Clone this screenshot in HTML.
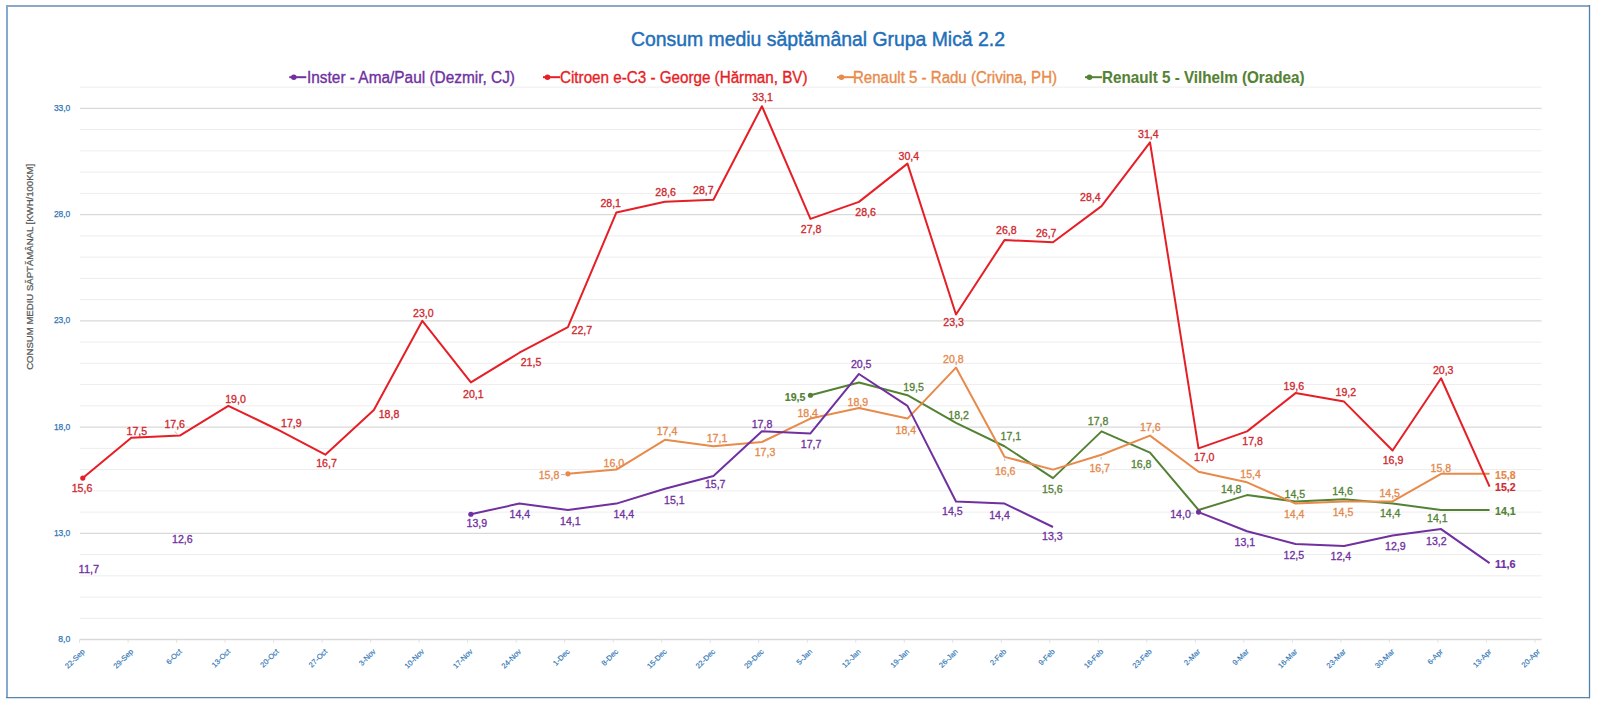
<!DOCTYPE html><html><head><meta charset="utf-8"><style>html,body{margin:0;padding:0;background:#fff;}svg{display:block;font-family:"Liberation Sans",sans-serif;}</style></head><body>
<svg width="1600" height="702" viewBox="0 0 1600 702">
<rect x="0" y="0" width="1600" height="702" fill="#fff"/>
<line x1="7" y1="5" x2="7" y2="698" stroke="#86AACE" stroke-width="2"/>
<line x1="6" y1="6" x2="1590" y2="6" stroke="#8AA8C6" stroke-width="1.8"/>
<line x1="1589.5" y1="5" x2="1589.5" y2="698.3" stroke="#4F80A8" stroke-width="1.3"/>
<line x1="6" y1="697.6" x2="1590" y2="697.6" stroke="#5584AC" stroke-width="1.3"/>
<line x1="80" x2="1541.6" y1="618.35" y2="618.35" stroke="#EDEDED" stroke-width="1"/>
<line x1="80" x2="1541.6" y1="597.10" y2="597.10" stroke="#EDEDED" stroke-width="1"/>
<line x1="80" x2="1541.6" y1="575.85" y2="575.85" stroke="#EDEDED" stroke-width="1"/>
<line x1="80" x2="1541.6" y1="554.60" y2="554.60" stroke="#EDEDED" stroke-width="1"/>
<line x1="80" x2="1541.6" y1="533.35" y2="533.35" stroke="#D9D9D9" stroke-width="1.2"/>
<line x1="80" x2="1541.6" y1="512.10" y2="512.10" stroke="#EDEDED" stroke-width="1"/>
<line x1="80" x2="1541.6" y1="490.85" y2="490.85" stroke="#EDEDED" stroke-width="1"/>
<line x1="80" x2="1541.6" y1="469.60" y2="469.60" stroke="#EDEDED" stroke-width="1"/>
<line x1="80" x2="1541.6" y1="448.35" y2="448.35" stroke="#EDEDED" stroke-width="1"/>
<line x1="80" x2="1541.6" y1="427.10" y2="427.10" stroke="#D9D9D9" stroke-width="1.2"/>
<line x1="80" x2="1541.6" y1="405.85" y2="405.85" stroke="#EDEDED" stroke-width="1"/>
<line x1="80" x2="1541.6" y1="384.60" y2="384.60" stroke="#EDEDED" stroke-width="1"/>
<line x1="80" x2="1541.6" y1="363.35" y2="363.35" stroke="#EDEDED" stroke-width="1"/>
<line x1="80" x2="1541.6" y1="342.10" y2="342.10" stroke="#EDEDED" stroke-width="1"/>
<line x1="80" x2="1541.6" y1="320.85" y2="320.85" stroke="#D9D9D9" stroke-width="1.2"/>
<line x1="80" x2="1541.6" y1="299.60" y2="299.60" stroke="#EDEDED" stroke-width="1"/>
<line x1="80" x2="1541.6" y1="278.35" y2="278.35" stroke="#EDEDED" stroke-width="1"/>
<line x1="80" x2="1541.6" y1="257.10" y2="257.10" stroke="#EDEDED" stroke-width="1"/>
<line x1="80" x2="1541.6" y1="235.85" y2="235.85" stroke="#EDEDED" stroke-width="1"/>
<line x1="80" x2="1541.6" y1="214.60" y2="214.60" stroke="#D9D9D9" stroke-width="1.2"/>
<line x1="80" x2="1541.6" y1="193.35" y2="193.35" stroke="#EDEDED" stroke-width="1"/>
<line x1="80" x2="1541.6" y1="172.10" y2="172.10" stroke="#EDEDED" stroke-width="1"/>
<line x1="80" x2="1541.6" y1="150.85" y2="150.85" stroke="#EDEDED" stroke-width="1"/>
<line x1="80" x2="1541.6" y1="129.60" y2="129.60" stroke="#EDEDED" stroke-width="1"/>
<line x1="80" x2="1541.6" y1="108.35" y2="108.35" stroke="#D9D9D9" stroke-width="1.2"/>
<line x1="80" x2="1541.6" y1="87.10" y2="87.10" stroke="#EDEDED" stroke-width="1"/>
<line x1="79.6" x2="1541.6" y1="639.6" y2="639.6" stroke="#D9D9D9" stroke-width="1.5"/>
<line x1="79.60" x2="79.60" y1="639.6" y2="642.8000000000001" stroke="#E2E2E2" stroke-width="1"/>
<line x1="128.11" x2="128.11" y1="639.6" y2="642.8000000000001" stroke="#E2E2E2" stroke-width="1"/>
<line x1="176.62" x2="176.62" y1="639.6" y2="642.8000000000001" stroke="#E2E2E2" stroke-width="1"/>
<line x1="225.13" x2="225.13" y1="639.6" y2="642.8000000000001" stroke="#E2E2E2" stroke-width="1"/>
<line x1="273.64" x2="273.64" y1="639.6" y2="642.8000000000001" stroke="#E2E2E2" stroke-width="1"/>
<line x1="322.15" x2="322.15" y1="639.6" y2="642.8000000000001" stroke="#E2E2E2" stroke-width="1"/>
<line x1="370.66" x2="370.66" y1="639.6" y2="642.8000000000001" stroke="#E2E2E2" stroke-width="1"/>
<line x1="419.17" x2="419.17" y1="639.6" y2="642.8000000000001" stroke="#E2E2E2" stroke-width="1"/>
<line x1="467.68" x2="467.68" y1="639.6" y2="642.8000000000001" stroke="#E2E2E2" stroke-width="1"/>
<line x1="516.19" x2="516.19" y1="639.6" y2="642.8000000000001" stroke="#E2E2E2" stroke-width="1"/>
<line x1="564.70" x2="564.70" y1="639.6" y2="642.8000000000001" stroke="#E2E2E2" stroke-width="1"/>
<line x1="613.21" x2="613.21" y1="639.6" y2="642.8000000000001" stroke="#E2E2E2" stroke-width="1"/>
<line x1="661.72" x2="661.72" y1="639.6" y2="642.8000000000001" stroke="#E2E2E2" stroke-width="1"/>
<line x1="710.23" x2="710.23" y1="639.6" y2="642.8000000000001" stroke="#E2E2E2" stroke-width="1"/>
<line x1="758.74" x2="758.74" y1="639.6" y2="642.8000000000001" stroke="#E2E2E2" stroke-width="1"/>
<line x1="807.25" x2="807.25" y1="639.6" y2="642.8000000000001" stroke="#E2E2E2" stroke-width="1"/>
<line x1="855.76" x2="855.76" y1="639.6" y2="642.8000000000001" stroke="#E2E2E2" stroke-width="1"/>
<line x1="904.27" x2="904.27" y1="639.6" y2="642.8000000000001" stroke="#E2E2E2" stroke-width="1"/>
<line x1="952.78" x2="952.78" y1="639.6" y2="642.8000000000001" stroke="#E2E2E2" stroke-width="1"/>
<line x1="1001.29" x2="1001.29" y1="639.6" y2="642.8000000000001" stroke="#E2E2E2" stroke-width="1"/>
<line x1="1049.80" x2="1049.80" y1="639.6" y2="642.8000000000001" stroke="#E2E2E2" stroke-width="1"/>
<line x1="1098.31" x2="1098.31" y1="639.6" y2="642.8000000000001" stroke="#E2E2E2" stroke-width="1"/>
<line x1="1146.82" x2="1146.82" y1="639.6" y2="642.8000000000001" stroke="#E2E2E2" stroke-width="1"/>
<line x1="1195.33" x2="1195.33" y1="639.6" y2="642.8000000000001" stroke="#E2E2E2" stroke-width="1"/>
<line x1="1243.84" x2="1243.84" y1="639.6" y2="642.8000000000001" stroke="#E2E2E2" stroke-width="1"/>
<line x1="1292.35" x2="1292.35" y1="639.6" y2="642.8000000000001" stroke="#E2E2E2" stroke-width="1"/>
<line x1="1340.86" x2="1340.86" y1="639.6" y2="642.8000000000001" stroke="#E2E2E2" stroke-width="1"/>
<line x1="1389.37" x2="1389.37" y1="639.6" y2="642.8000000000001" stroke="#E2E2E2" stroke-width="1"/>
<line x1="1437.88" x2="1437.88" y1="639.6" y2="642.8000000000001" stroke="#E2E2E2" stroke-width="1"/>
<line x1="1486.39" x2="1486.39" y1="639.6" y2="642.8000000000001" stroke="#E2E2E2" stroke-width="1"/>
<line x1="1534.90" x2="1534.90" y1="639.6" y2="642.8000000000001" stroke="#E2E2E2" stroke-width="1"/>
<text x="70.3" y="642.10" font-size="9" fill="#2E75B6" text-anchor="end" textLength="12" lengthAdjust="spacingAndGlyphs" stroke="#2E75B6" stroke-width="0.25">8,0</text>
<text x="70.3" y="535.85" font-size="9" fill="#2E75B6" text-anchor="end" textLength="16.4" lengthAdjust="spacingAndGlyphs" stroke="#2E75B6" stroke-width="0.25">13,0</text>
<text x="70.3" y="429.60" font-size="9" fill="#2E75B6" text-anchor="end" textLength="16.4" lengthAdjust="spacingAndGlyphs" stroke="#2E75B6" stroke-width="0.25">18,0</text>
<text x="70.3" y="323.35" font-size="9" fill="#2E75B6" text-anchor="end" textLength="16.4" lengthAdjust="spacingAndGlyphs" stroke="#2E75B6" stroke-width="0.25">23,0</text>
<text x="70.3" y="217.10" font-size="9" fill="#2E75B6" text-anchor="end" textLength="16.4" lengthAdjust="spacingAndGlyphs" stroke="#2E75B6" stroke-width="0.25">28,0</text>
<text x="70.3" y="110.85" font-size="9" fill="#2E75B6" text-anchor="end" textLength="16.4" lengthAdjust="spacingAndGlyphs" stroke="#2E75B6" stroke-width="0.25">33,0</text>
<text transform="translate(85.10,652) rotate(-45)" font-size="7.5" fill="#2E75B6" text-anchor="end" stroke="#2E75B6" stroke-width="0.15">22-Sep</text>
<text transform="translate(133.61,652) rotate(-45)" font-size="7.5" fill="#2E75B6" text-anchor="end" stroke="#2E75B6" stroke-width="0.15">29-Sep</text>
<text transform="translate(182.12,652) rotate(-45)" font-size="7.5" fill="#2E75B6" text-anchor="end" stroke="#2E75B6" stroke-width="0.15">6-Oct</text>
<text transform="translate(230.63,652) rotate(-45)" font-size="7.5" fill="#2E75B6" text-anchor="end" stroke="#2E75B6" stroke-width="0.15">13-Oct</text>
<text transform="translate(279.14,652) rotate(-45)" font-size="7.5" fill="#2E75B6" text-anchor="end" stroke="#2E75B6" stroke-width="0.15">20-Oct</text>
<text transform="translate(327.65,652) rotate(-45)" font-size="7.5" fill="#2E75B6" text-anchor="end" stroke="#2E75B6" stroke-width="0.15">27-Oct</text>
<text transform="translate(376.16,652) rotate(-45)" font-size="7.5" fill="#2E75B6" text-anchor="end" stroke="#2E75B6" stroke-width="0.15">3-Nov</text>
<text transform="translate(424.67,652) rotate(-45)" font-size="7.5" fill="#2E75B6" text-anchor="end" stroke="#2E75B6" stroke-width="0.15">10-Nov</text>
<text transform="translate(473.18,652) rotate(-45)" font-size="7.5" fill="#2E75B6" text-anchor="end" stroke="#2E75B6" stroke-width="0.15">17-Nov</text>
<text transform="translate(521.69,652) rotate(-45)" font-size="7.5" fill="#2E75B6" text-anchor="end" stroke="#2E75B6" stroke-width="0.15">24-Nov</text>
<text transform="translate(570.20,652) rotate(-45)" font-size="7.5" fill="#2E75B6" text-anchor="end" stroke="#2E75B6" stroke-width="0.15">1-Dec</text>
<text transform="translate(618.71,652) rotate(-45)" font-size="7.5" fill="#2E75B6" text-anchor="end" stroke="#2E75B6" stroke-width="0.15">8-Dec</text>
<text transform="translate(667.22,652) rotate(-45)" font-size="7.5" fill="#2E75B6" text-anchor="end" stroke="#2E75B6" stroke-width="0.15">15-Dec</text>
<text transform="translate(715.73,652) rotate(-45)" font-size="7.5" fill="#2E75B6" text-anchor="end" stroke="#2E75B6" stroke-width="0.15">22-Dec</text>
<text transform="translate(764.24,652) rotate(-45)" font-size="7.5" fill="#2E75B6" text-anchor="end" stroke="#2E75B6" stroke-width="0.15">29-Dec</text>
<text transform="translate(812.75,652) rotate(-45)" font-size="7.5" fill="#2E75B6" text-anchor="end" stroke="#2E75B6" stroke-width="0.15">5-Jan</text>
<text transform="translate(861.26,652) rotate(-45)" font-size="7.5" fill="#2E75B6" text-anchor="end" stroke="#2E75B6" stroke-width="0.15">12-Jan</text>
<text transform="translate(909.77,652) rotate(-45)" font-size="7.5" fill="#2E75B6" text-anchor="end" stroke="#2E75B6" stroke-width="0.15">19-Jan</text>
<text transform="translate(958.28,652) rotate(-45)" font-size="7.5" fill="#2E75B6" text-anchor="end" stroke="#2E75B6" stroke-width="0.15">26-Jan</text>
<text transform="translate(1006.79,652) rotate(-45)" font-size="7.5" fill="#2E75B6" text-anchor="end" stroke="#2E75B6" stroke-width="0.15">2-Feb</text>
<text transform="translate(1055.30,652) rotate(-45)" font-size="7.5" fill="#2E75B6" text-anchor="end" stroke="#2E75B6" stroke-width="0.15">9-Feb</text>
<text transform="translate(1103.81,652) rotate(-45)" font-size="7.5" fill="#2E75B6" text-anchor="end" stroke="#2E75B6" stroke-width="0.15">16-Feb</text>
<text transform="translate(1152.32,652) rotate(-45)" font-size="7.5" fill="#2E75B6" text-anchor="end" stroke="#2E75B6" stroke-width="0.15">23-Feb</text>
<text transform="translate(1200.83,652) rotate(-45)" font-size="7.5" fill="#2E75B6" text-anchor="end" stroke="#2E75B6" stroke-width="0.15">2-Mar</text>
<text transform="translate(1249.34,652) rotate(-45)" font-size="7.5" fill="#2E75B6" text-anchor="end" stroke="#2E75B6" stroke-width="0.15">9-Mar</text>
<text transform="translate(1297.85,652) rotate(-45)" font-size="7.5" fill="#2E75B6" text-anchor="end" stroke="#2E75B6" stroke-width="0.15">16-Mar</text>
<text transform="translate(1346.36,652) rotate(-45)" font-size="7.5" fill="#2E75B6" text-anchor="end" stroke="#2E75B6" stroke-width="0.15">23-Mar</text>
<text transform="translate(1394.87,652) rotate(-45)" font-size="7.5" fill="#2E75B6" text-anchor="end" stroke="#2E75B6" stroke-width="0.15">30-Mar</text>
<text transform="translate(1443.38,652) rotate(-45)" font-size="7.5" fill="#2E75B6" text-anchor="end" stroke="#2E75B6" stroke-width="0.15">6-Apr</text>
<text transform="translate(1491.89,652) rotate(-45)" font-size="7.5" fill="#2E75B6" text-anchor="end" stroke="#2E75B6" stroke-width="0.15">13-Apr</text>
<text transform="translate(1540.40,652) rotate(-45)" font-size="7.5" fill="#2E75B6" text-anchor="end" stroke="#2E75B6" stroke-width="0.15">20-Apr</text>
<text transform="translate(33.1,266.8) rotate(-90)" font-size="9" fill="#595959" text-anchor="middle" textLength="206" lengthAdjust="spacingAndGlyphs" stroke="#595959" stroke-width="0.25">CONSUM MEDIU SĂPTĂMÂNAL [KWH/100KM]</text>
<text x="818" y="46" font-size="20" fill="#1F6FB9" text-anchor="middle" textLength="374" lengthAdjust="spacingAndGlyphs" stroke="#1F6FB9" stroke-width="0.45">Consum mediu săptămânal Grupa Mică 2.2</text>
<line x1="289.3" x2="306.3" y1="77.2" y2="77.2" stroke="#7030A0" stroke-width="2"/>
<circle cx="293.8" cy="77.2" r="2.8" fill="#7030A0"/>
<text x="307" y="83" font-size="16" fill="#7030A0" textLength="208" lengthAdjust="spacingAndGlyphs" stroke="#7030A0" stroke-width="0.35">Inster - Ama/Paul (Dezmir, CJ)</text>
<line x1="543" x2="560" y1="77.2" y2="77.2" stroke="#E61E26" stroke-width="2"/>
<circle cx="547.5" cy="77.2" r="2.8" fill="#E61E26"/>
<text x="560" y="83" font-size="16" fill="#E61E26" textLength="247.5" lengthAdjust="spacingAndGlyphs" stroke="#E61E26" stroke-width="0.35">Citroen e-C3 - George (Hărman, BV)</text>
<line x1="837" x2="854" y1="77.2" y2="77.2" stroke="#E88A4A" stroke-width="2"/>
<circle cx="841.5" cy="77.2" r="2.8" fill="#E88A4A"/>
<text x="853" y="83" font-size="16" fill="#E88A4A" textLength="204" lengthAdjust="spacingAndGlyphs" stroke="#E88A4A" stroke-width="0.35">Renault 5 - Radu (Crivina, PH)</text>
<line x1="1085" x2="1102" y1="77.2" y2="77.2" stroke="#548235" stroke-width="2"/>
<circle cx="1089.5" cy="77.2" r="2.8" fill="#548235"/>
<text x="1102" y="83" font-size="16" font-weight="bold" fill="#548235" textLength="202.5" lengthAdjust="spacingAndGlyphs" stroke="#548235" stroke-width="0.1">Renault 5 - Vilhelm (Oradea)</text>
<polyline points="810.45,395.23 858.96,382.47 907.47,395.23 955.98,422.85 1004.49,446.23 1053.00,478.10 1101.51,431.35 1150.02,452.60 1198.53,509.98 1247.04,495.10 1295.55,501.48 1344.06,499.35 1392.57,503.60 1441.08,509.98 1489.59,509.98" fill="none" stroke="#548235" stroke-width="2.0" stroke-linejoin="round" stroke-linecap="butt"/>
<circle cx="810.45" cy="395.23" r="2.6" fill="#548235"/>
<polyline points="567.90,473.85 616.41,469.60 664.92,439.85 713.43,446.23 761.94,441.98 810.45,418.60 858.96,407.98 907.47,418.60 955.98,367.60 1004.49,456.85 1053.00,469.60 1101.51,454.73 1150.02,435.60 1198.53,471.73 1247.04,482.35 1295.55,503.60 1344.06,501.48 1392.57,501.48 1441.08,473.85 1489.59,473.85" fill="none" stroke="#E88A4A" stroke-width="2.0" stroke-linejoin="round" stroke-linecap="butt"/>
<circle cx="567.90" cy="473.85" r="2.6" fill="#E88A4A"/>
<polyline points="470.88,514.23 519.39,503.60 567.90,509.98 616.41,503.60 664.92,488.73 713.43,475.98 761.94,431.35 810.45,433.48 858.96,373.98 907.47,405.85 955.98,501.48 1004.49,503.60 1053.00,526.98" fill="none" stroke="#7030A0" stroke-width="2.0" stroke-linejoin="round" stroke-linecap="butt"/>
<circle cx="470.88" cy="514.23" r="2.6" fill="#7030A0"/>
<polyline points="1198.53,512.10 1247.04,531.23 1295.55,543.98 1344.06,546.10 1392.57,535.48 1441.08,529.10 1489.59,563.10" fill="none" stroke="#7030A0" stroke-width="2.0" stroke-linejoin="round" stroke-linecap="butt"/>
<circle cx="1198.53" cy="512.10" r="2.6" fill="#7030A0"/>
<polyline points="82.80,478.10 131.31,437.73 179.82,435.60 228.33,405.85 276.84,429.23 325.35,454.73 373.86,410.10 422.37,320.85 470.88,382.47 519.39,352.73 567.90,327.23 616.41,212.47 664.92,201.85 713.43,199.73 761.94,106.23 810.45,218.85 858.96,201.85 907.47,163.60 955.98,314.48 1004.49,240.10 1053.00,242.23 1101.51,206.10 1150.02,142.35 1198.53,448.35 1247.04,431.35 1295.55,393.10 1344.06,401.60 1392.57,450.48 1441.08,378.23 1489.59,486.60" fill="none" stroke="#E61E26" stroke-width="2.0" stroke-linejoin="round" stroke-linecap="butt"/>
<circle cx="82.80" cy="478.10" r="2.6" fill="#E61E26"/>
<line x1="174.8" y1="431.6" x2="177.6" y2="434.2" stroke="#A6A6A6" stroke-width="0.8"/>
<line x1="1189.8" y1="513.2" x2="1194.2" y2="513.2" stroke="#A6A6A6" stroke-width="0.8"/>
<line x1="561" y1="474.6" x2="565" y2="474.6" stroke="#A6A6A6" stroke-width="0.8"/>
<line x1="1004.6" y1="458.6" x2="1004.9" y2="461" stroke="#A6A6A6" stroke-width="0.8"/>
<line x1="1101" y1="457" x2="1101.2" y2="459.5" stroke="#A6A6A6" stroke-width="0.8"/>
<text x="82" y="492.10" font-size="10.0" fill="#CF282E" text-anchor="middle" textLength="20.6" lengthAdjust="spacingAndGlyphs" stroke="#CF282E" stroke-width="0.3">15,6</text>
<text x="136.8" y="435.30" font-size="10.0" fill="#CF282E" text-anchor="middle" textLength="20.6" lengthAdjust="spacingAndGlyphs" stroke="#CF282E" stroke-width="0.3">17,5</text>
<text x="174.7" y="428.10" font-size="10.0" fill="#CF282E" text-anchor="middle" textLength="20.6" lengthAdjust="spacingAndGlyphs" stroke="#CF282E" stroke-width="0.3">17,6</text>
<text x="235.5" y="403.30" font-size="10.0" fill="#CF282E" text-anchor="middle" textLength="20.6" lengthAdjust="spacingAndGlyphs" stroke="#CF282E" stroke-width="0.3">19,0</text>
<text x="291.3" y="426.60" font-size="10.0" fill="#CF282E" text-anchor="middle" textLength="20.6" lengthAdjust="spacingAndGlyphs" stroke="#CF282E" stroke-width="0.3">17,9</text>
<text x="326.5" y="467.00" font-size="10.0" fill="#CF282E" text-anchor="middle" textLength="20.6" lengthAdjust="spacingAndGlyphs" stroke="#CF282E" stroke-width="0.3">16,7</text>
<text x="389" y="417.90" font-size="10.0" fill="#CF282E" text-anchor="middle" textLength="20.6" lengthAdjust="spacingAndGlyphs" stroke="#CF282E" stroke-width="0.3">18,8</text>
<text x="423.3" y="316.90" font-size="10.0" fill="#CF282E" text-anchor="middle" textLength="20.6" lengthAdjust="spacingAndGlyphs" stroke="#CF282E" stroke-width="0.3">23,0</text>
<text x="473.3" y="397.60" font-size="10.0" fill="#CF282E" text-anchor="middle" textLength="20.6" lengthAdjust="spacingAndGlyphs" stroke="#CF282E" stroke-width="0.3">20,1</text>
<text x="531" y="365.80" font-size="10.0" fill="#CF282E" text-anchor="middle" textLength="20.6" lengthAdjust="spacingAndGlyphs" stroke="#CF282E" stroke-width="0.3">21,5</text>
<text x="581.9" y="334.00" font-size="10.0" fill="#CF282E" text-anchor="middle" textLength="20.6" lengthAdjust="spacingAndGlyphs" stroke="#CF282E" stroke-width="0.3">22,7</text>
<text x="610.7" y="206.90" font-size="10.0" fill="#CF282E" text-anchor="middle" textLength="20.6" lengthAdjust="spacingAndGlyphs" stroke="#CF282E" stroke-width="0.3">28,1</text>
<text x="665.6" y="195.80" font-size="10.0" fill="#CF282E" text-anchor="middle" textLength="20.6" lengthAdjust="spacingAndGlyphs" stroke="#CF282E" stroke-width="0.3">28,6</text>
<text x="703.3" y="194.00" font-size="10.0" fill="#CF282E" text-anchor="middle" textLength="20.6" lengthAdjust="spacingAndGlyphs" stroke="#CF282E" stroke-width="0.3">28,7</text>
<text x="762.6" y="100.60" font-size="10.0" fill="#CF282E" text-anchor="middle" textLength="20.6" lengthAdjust="spacingAndGlyphs" stroke="#CF282E" stroke-width="0.3">33,1</text>
<text x="811.1" y="232.50" font-size="10.0" fill="#CF282E" text-anchor="middle" textLength="20.6" lengthAdjust="spacingAndGlyphs" stroke="#CF282E" stroke-width="0.3">27,8</text>
<text x="865.6" y="215.50" font-size="10.0" fill="#CF282E" text-anchor="middle" textLength="20.6" lengthAdjust="spacingAndGlyphs" stroke="#CF282E" stroke-width="0.3">28,6</text>
<text x="908.9" y="160.30" font-size="10.0" fill="#CF282E" text-anchor="middle" textLength="20.6" lengthAdjust="spacingAndGlyphs" stroke="#CF282E" stroke-width="0.3">30,4</text>
<text x="953.6" y="326.00" font-size="10.0" fill="#CF282E" text-anchor="middle" textLength="20.6" lengthAdjust="spacingAndGlyphs" stroke="#CF282E" stroke-width="0.3">23,3</text>
<text x="1006.3" y="234.10" font-size="10.0" fill="#CF282E" text-anchor="middle" textLength="20.6" lengthAdjust="spacingAndGlyphs" stroke="#CF282E" stroke-width="0.3">26,8</text>
<text x="1046.2" y="237.00" font-size="10.0" fill="#CF282E" text-anchor="middle" textLength="20.6" lengthAdjust="spacingAndGlyphs" stroke="#CF282E" stroke-width="0.3">26,7</text>
<text x="1090.4" y="201.40" font-size="10.0" fill="#CF282E" text-anchor="middle" textLength="20.6" lengthAdjust="spacingAndGlyphs" stroke="#CF282E" stroke-width="0.3">28,4</text>
<text x="1148.4" y="137.50" font-size="10.0" fill="#CF282E" text-anchor="middle" textLength="20.6" lengthAdjust="spacingAndGlyphs" stroke="#CF282E" stroke-width="0.3">31,4</text>
<text x="1204.2" y="460.50" font-size="10.0" fill="#CF282E" text-anchor="middle" textLength="20.6" lengthAdjust="spacingAndGlyphs" stroke="#CF282E" stroke-width="0.3">17,0</text>
<text x="1252.6" y="445.40" font-size="10.0" fill="#CF282E" text-anchor="middle" textLength="20.6" lengthAdjust="spacingAndGlyphs" stroke="#CF282E" stroke-width="0.3">17,8</text>
<text x="1293.9" y="389.80" font-size="10.0" fill="#CF282E" text-anchor="middle" textLength="20.6" lengthAdjust="spacingAndGlyphs" stroke="#CF282E" stroke-width="0.3">19,6</text>
<text x="1345.8" y="395.50" font-size="10.0" fill="#CF282E" text-anchor="middle" textLength="20.6" lengthAdjust="spacingAndGlyphs" stroke="#CF282E" stroke-width="0.3">19,2</text>
<text x="1393" y="463.90" font-size="10.0" fill="#CF282E" text-anchor="middle" textLength="20.6" lengthAdjust="spacingAndGlyphs" stroke="#CF282E" stroke-width="0.3">16,9</text>
<text x="1443.2" y="373.70" font-size="10.0" fill="#CF282E" text-anchor="middle" textLength="20.6" lengthAdjust="spacingAndGlyphs" stroke="#CF282E" stroke-width="0.3">20,3</text>
<text x="1505.3" y="491.20" font-size="10.0" font-weight="bold" fill="#CF282E" text-anchor="middle" textLength="20.6" lengthAdjust="spacingAndGlyphs" stroke="#CF282E" stroke-width="0.15">15,2</text>
<text x="88.9" y="572.90" font-size="10.0" fill="#7030A0" text-anchor="middle" textLength="20.6" lengthAdjust="spacingAndGlyphs" stroke="#7030A0" stroke-width="0.3">11,7</text>
<text x="182.4" y="542.60" font-size="10.0" fill="#7030A0" text-anchor="middle" textLength="20.6" lengthAdjust="spacingAndGlyphs" stroke="#7030A0" stroke-width="0.3">12,6</text>
<text x="476.8" y="526.90" font-size="10.0" fill="#7030A0" text-anchor="middle" textLength="20.6" lengthAdjust="spacingAndGlyphs" stroke="#7030A0" stroke-width="0.3">13,9</text>
<text x="519.8" y="518.00" font-size="10.0" fill="#7030A0" text-anchor="middle" textLength="20.6" lengthAdjust="spacingAndGlyphs" stroke="#7030A0" stroke-width="0.3">14,4</text>
<text x="570.3" y="525.10" font-size="10.0" fill="#7030A0" text-anchor="middle" textLength="20.6" lengthAdjust="spacingAndGlyphs" stroke="#7030A0" stroke-width="0.3">14,1</text>
<text x="623.8" y="518.00" font-size="10.0" fill="#7030A0" text-anchor="middle" textLength="20.6" lengthAdjust="spacingAndGlyphs" stroke="#7030A0" stroke-width="0.3">14,4</text>
<text x="674.4" y="504.00" font-size="10.0" fill="#7030A0" text-anchor="middle" textLength="20.6" lengthAdjust="spacingAndGlyphs" stroke="#7030A0" stroke-width="0.3">15,1</text>
<text x="715.2" y="488.40" font-size="10.0" fill="#7030A0" text-anchor="middle" textLength="20.6" lengthAdjust="spacingAndGlyphs" stroke="#7030A0" stroke-width="0.3">15,7</text>
<text x="762" y="427.60" font-size="10.0" fill="#7030A0" text-anchor="middle" textLength="20.6" lengthAdjust="spacingAndGlyphs" stroke="#7030A0" stroke-width="0.3">17,8</text>
<text x="811.1" y="447.90" font-size="10.0" fill="#7030A0" text-anchor="middle" textLength="20.6" lengthAdjust="spacingAndGlyphs" stroke="#7030A0" stroke-width="0.3">17,7</text>
<text x="861.2" y="367.50" font-size="10.0" fill="#7030A0" text-anchor="middle" textLength="20.6" lengthAdjust="spacingAndGlyphs" stroke="#7030A0" stroke-width="0.3">20,5</text>
<text x="952.3" y="514.80" font-size="10.0" fill="#7030A0" text-anchor="middle" textLength="20.6" lengthAdjust="spacingAndGlyphs" stroke="#7030A0" stroke-width="0.3">14,5</text>
<text x="999.5" y="518.60" font-size="10.0" fill="#7030A0" text-anchor="middle" textLength="20.6" lengthAdjust="spacingAndGlyphs" stroke="#7030A0" stroke-width="0.3">14,4</text>
<text x="1052.3" y="539.80" font-size="10.0" fill="#7030A0" text-anchor="middle" textLength="20.6" lengthAdjust="spacingAndGlyphs" stroke="#7030A0" stroke-width="0.3">13,3</text>
<text x="1180.5" y="518.00" font-size="10.0" fill="#7030A0" text-anchor="middle" textLength="20.6" lengthAdjust="spacingAndGlyphs" stroke="#7030A0" stroke-width="0.3">14,0</text>
<text x="1244.9" y="545.90" font-size="10.0" fill="#7030A0" text-anchor="middle" textLength="20.6" lengthAdjust="spacingAndGlyphs" stroke="#7030A0" stroke-width="0.3">13,1</text>
<text x="1293.9" y="558.50" font-size="10.0" fill="#7030A0" text-anchor="middle" textLength="20.6" lengthAdjust="spacingAndGlyphs" stroke="#7030A0" stroke-width="0.3">12,5</text>
<text x="1340.8" y="559.80" font-size="10.0" fill="#7030A0" text-anchor="middle" textLength="20.6" lengthAdjust="spacingAndGlyphs" stroke="#7030A0" stroke-width="0.3">12,4</text>
<text x="1395.4" y="549.80" font-size="10.0" fill="#7030A0" text-anchor="middle" textLength="20.6" lengthAdjust="spacingAndGlyphs" stroke="#7030A0" stroke-width="0.3">12,9</text>
<text x="1436.4" y="545.30" font-size="10.0" fill="#7030A0" text-anchor="middle" textLength="20.6" lengthAdjust="spacingAndGlyphs" stroke="#7030A0" stroke-width="0.3">13,2</text>
<text x="1505.3" y="568.40" font-size="10.0" font-weight="bold" fill="#7030A0" text-anchor="middle" textLength="20.6" lengthAdjust="spacingAndGlyphs" stroke="#7030A0" stroke-width="0.15">11,6</text>
<text x="549" y="478.90" font-size="10.0" fill="#E5894A" text-anchor="middle" textLength="20.6" lengthAdjust="spacingAndGlyphs" stroke="#E5894A" stroke-width="0.3">15,8</text>
<text x="613.8" y="467.10" font-size="10.0" fill="#E5894A" text-anchor="middle" textLength="20.6" lengthAdjust="spacingAndGlyphs" stroke="#E5894A" stroke-width="0.3">16,0</text>
<text x="667" y="434.70" font-size="10.0" fill="#E5894A" text-anchor="middle" textLength="20.6" lengthAdjust="spacingAndGlyphs" stroke="#E5894A" stroke-width="0.3">17,4</text>
<text x="717" y="442.10" font-size="10.0" fill="#E5894A" text-anchor="middle" textLength="20.6" lengthAdjust="spacingAndGlyphs" stroke="#E5894A" stroke-width="0.3">17,1</text>
<text x="765" y="456.40" font-size="10.0" fill="#E5894A" text-anchor="middle" textLength="20.6" lengthAdjust="spacingAndGlyphs" stroke="#E5894A" stroke-width="0.3">17,3</text>
<text x="807.7" y="416.50" font-size="10.0" fill="#E5894A" text-anchor="middle" textLength="20.6" lengthAdjust="spacingAndGlyphs" stroke="#E5894A" stroke-width="0.3">18,4</text>
<text x="857.8" y="405.60" font-size="10.0" fill="#E5894A" text-anchor="middle" textLength="20.6" lengthAdjust="spacingAndGlyphs" stroke="#E5894A" stroke-width="0.3">18,9</text>
<text x="905.8" y="434.30" font-size="10.0" fill="#E5894A" text-anchor="middle" textLength="20.6" lengthAdjust="spacingAndGlyphs" stroke="#E5894A" stroke-width="0.3">18,4</text>
<text x="953.4" y="363.00" font-size="10.0" fill="#E5894A" text-anchor="middle" textLength="20.6" lengthAdjust="spacingAndGlyphs" stroke="#E5894A" stroke-width="0.3">20,8</text>
<text x="1005.2" y="474.70" font-size="10.0" fill="#E5894A" text-anchor="middle" textLength="20.6" lengthAdjust="spacingAndGlyphs" stroke="#E5894A" stroke-width="0.3">16,6</text>
<text x="1099.7" y="471.50" font-size="10.0" fill="#E5894A" text-anchor="middle" textLength="20.6" lengthAdjust="spacingAndGlyphs" stroke="#E5894A" stroke-width="0.3">16,7</text>
<text x="1150.3" y="430.90" font-size="10.0" fill="#E5894A" text-anchor="middle" textLength="20.6" lengthAdjust="spacingAndGlyphs" stroke="#E5894A" stroke-width="0.3">17,6</text>
<text x="1250.6" y="478.10" font-size="10.0" fill="#E5894A" text-anchor="middle" textLength="20.6" lengthAdjust="spacingAndGlyphs" stroke="#E5894A" stroke-width="0.3">15,4</text>
<text x="1294.2" y="517.80" font-size="10.0" fill="#E5894A" text-anchor="middle" textLength="20.6" lengthAdjust="spacingAndGlyphs" stroke="#E5894A" stroke-width="0.3">14,4</text>
<text x="1343" y="516.10" font-size="10.0" fill="#E5894A" text-anchor="middle" textLength="20.6" lengthAdjust="spacingAndGlyphs" stroke="#E5894A" stroke-width="0.3">14,5</text>
<text x="1389.7" y="496.60" font-size="10.0" fill="#E5894A" text-anchor="middle" textLength="20.6" lengthAdjust="spacingAndGlyphs" stroke="#E5894A" stroke-width="0.3">14,5</text>
<text x="1440.9" y="471.80" font-size="10.0" fill="#E5894A" text-anchor="middle" textLength="20.6" lengthAdjust="spacingAndGlyphs" stroke="#E5894A" stroke-width="0.3">15,8</text>
<text x="1505.3" y="479.20" font-size="10.0" font-weight="bold" fill="#E5894A" text-anchor="middle" textLength="20.6" lengthAdjust="spacingAndGlyphs" stroke="#E5894A" stroke-width="0.15">15,8</text>
<text x="795.1" y="400.60" font-size="10.0" font-weight="bold" fill="#548235" text-anchor="middle" textLength="20.6" lengthAdjust="spacingAndGlyphs" stroke="#548235" stroke-width="0.15">19,5</text>
<text x="913.6" y="390.80" font-size="10.0" fill="#548235" text-anchor="middle" textLength="20.6" lengthAdjust="spacingAndGlyphs" stroke="#548235" stroke-width="0.3">19,5</text>
<text x="958.6" y="419.30" font-size="10.0" fill="#548235" text-anchor="middle" textLength="20.6" lengthAdjust="spacingAndGlyphs" stroke="#548235" stroke-width="0.3">18,2</text>
<text x="1010.9" y="440.00" font-size="10.0" fill="#548235" text-anchor="middle" textLength="20.6" lengthAdjust="spacingAndGlyphs" stroke="#548235" stroke-width="0.3">17,1</text>
<text x="1052.3" y="492.90" font-size="10.0" fill="#548235" text-anchor="middle" textLength="20.6" lengthAdjust="spacingAndGlyphs" stroke="#548235" stroke-width="0.3">15,6</text>
<text x="1098.1" y="424.80" font-size="10.0" fill="#548235" text-anchor="middle" textLength="20.6" lengthAdjust="spacingAndGlyphs" stroke="#548235" stroke-width="0.3">17,8</text>
<text x="1141.2" y="468.10" font-size="10.0" fill="#548235" text-anchor="middle" textLength="20.6" lengthAdjust="spacingAndGlyphs" stroke="#548235" stroke-width="0.3">16,8</text>
<text x="1231.2" y="492.70" font-size="10.0" fill="#548235" text-anchor="middle" textLength="20.6" lengthAdjust="spacingAndGlyphs" stroke="#548235" stroke-width="0.3">14,8</text>
<text x="1294.9" y="498.40" font-size="10.0" fill="#548235" text-anchor="middle" textLength="20.6" lengthAdjust="spacingAndGlyphs" stroke="#548235" stroke-width="0.3">14,5</text>
<text x="1342.6" y="495.20" font-size="10.0" fill="#548235" text-anchor="middle" textLength="20.6" lengthAdjust="spacingAndGlyphs" stroke="#548235" stroke-width="0.3">14,6</text>
<text x="1390.2" y="516.80" font-size="10.0" fill="#548235" text-anchor="middle" textLength="20.6" lengthAdjust="spacingAndGlyphs" stroke="#548235" stroke-width="0.3">14,4</text>
<text x="1437.4" y="522.10" font-size="10.0" fill="#548235" text-anchor="middle" textLength="20.6" lengthAdjust="spacingAndGlyphs" stroke="#548235" stroke-width="0.3">14,1</text>
<text x="1505.3" y="515.10" font-size="10.0" font-weight="bold" fill="#548235" text-anchor="middle" textLength="20.6" lengthAdjust="spacingAndGlyphs" stroke="#548235" stroke-width="0.15">14,1</text>
</svg></body></html>
